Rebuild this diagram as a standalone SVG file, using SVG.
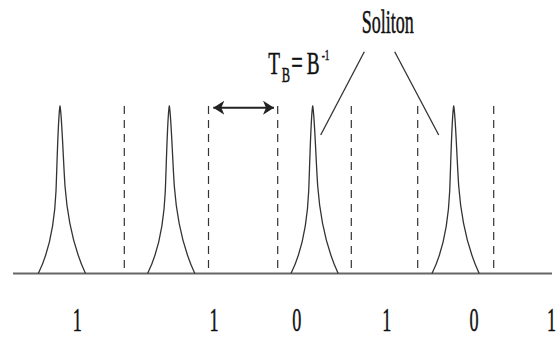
<svg xmlns="http://www.w3.org/2000/svg" xmlns:xlink="http://www.w3.org/1999/xlink" width="557" height="338" viewBox="0 0 557 338">
<style>
.pulse{fill:none;stroke:#333;stroke-width:1.3;stroke-linejoin:round}
.slot{fill:none;stroke:#333;stroke-width:1.2;stroke-dasharray:8 6}
.axis{fill:none;stroke:#666;stroke-width:2.2}
.ptr{fill:none;stroke:#333;stroke-width:1.3}
.arr{fill:none;stroke:#222;stroke-width:2}
.lbl{font-family:"Liberation Serif","Times New Roman",serif;fill:#111;stroke:#111;stroke-width:0.5}
</style>
<defs>
<path id="pk" d="M -21.7,167.5 C -12,148 -5.5,120 -4,85 C -2.8,55 -1.8,8 0,0 C 1.8,8 3,50 5,80 C 8,120 15,145 25.5,167.5"/>
<marker id="ah" viewBox="0 0 11 14" refX="11" refY="7" markerWidth="11" markerHeight="14" markerUnits="userSpaceOnUse" orient="auto-start-reverse">
<path d="M0,0 L11,7 L0,14 L3,7 Z" fill="#222"/>
</marker>
</defs>
<g id="axis"><line class="axis" x1="13" y1="273.5" x2="552" y2="273.5"/></g>
<g id="slots">
<line class="slot" x1="124.3" y1="106" x2="124.3" y2="273"/>
<line class="slot" x1="208.5" y1="106" x2="208.5" y2="273"/>
<line class="slot" x1="277.7" y1="106" x2="277.7" y2="273"/>
<line class="slot" x1="351.3" y1="106" x2="351.3" y2="273"/>
<line class="slot" x1="417.7" y1="106" x2="417.7" y2="273"/>
<line class="slot" x1="493.7" y1="106" x2="493.7" y2="273"/>
</g>
<g id="pulse1"><use xlink:href="#pk" class="pulse" transform="translate(60,106)"/></g>
<g id="pulse2"><use xlink:href="#pk" class="pulse" transform="translate(169.3,106)"/></g>
<g id="pulse3"><use xlink:href="#pk" class="pulse" transform="translate(312.7,106)"/></g>
<g id="pulse4"><use xlink:href="#pk" class="pulse" transform="translate(453.7,106)"/></g>
<g id="connectors">
<line class="arr" x1="213.3" y1="107.7" x2="274" y2="107.7" marker-start="url(#ah)" marker-end="url(#ah)"/>
<line class="ptr" x1="364.3" y1="51.7" x2="320.7" y2="135"/>
<line class="ptr" x1="394.7" y1="51.7" x2="438.7" y2="135"/>
</g>
<g id="soliton-label">
<text class="lbl" font-size="34" transform="translate(361.7,33.3) scale(0.53,1)">Soliton</text>
</g>
<g id="tb-label">
<text class="lbl" font-size="31" transform="translate(268.3,74) scale(0.62,1)"><tspan x="0">T</tspan><tspan x="21.6" dy="7.7" font-size="20">B</tspan><tspan x="37" dy="-7.7" font-size="33">=</tspan><tspan x="61.9">B</tspan><tspan x="86.1" dy="-14" font-size="15">-1</tspan></text>
</g>
<g id="bits">
<text class="lbl" font-size="33" text-anchor="middle" transform="translate(77.3,330.5) scale(0.55,1)">1</text>
<text class="lbl" font-size="33" text-anchor="middle" transform="translate(214,330.5) scale(0.55,1)">1</text>
<text class="lbl" font-size="33" text-anchor="middle" transform="translate(296.7,330.5) scale(0.55,1)">0</text>
<text class="lbl" font-size="33" text-anchor="middle" transform="translate(386.7,330.5) scale(0.55,1)">1</text>
<text class="lbl" font-size="33" text-anchor="middle" transform="translate(474,330.5) scale(0.55,1)">0</text>
<text class="lbl" font-size="33" text-anchor="middle" transform="translate(551.5,330.5) scale(0.55,1)">1</text>
</g>
</svg>
